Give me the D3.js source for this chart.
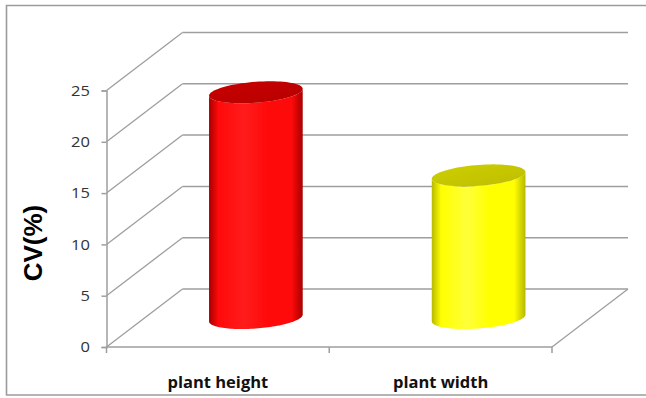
<!DOCTYPE html>
<html>
<head>
<meta charset="utf-8">
<script src="https://cdn.jsdelivr.net/npm/d3@7"></script>
<style>
  html, body { margin: 0; padding: 0; background: #fff; }
  svg { display: block; }
</style>
</head>
<body>
<script>
// Coefficient of variation per trait
const categories = ["plant height", "plant width"];
const values = [22.0, 13.9];
const tickValues = [0, 5, 10, 15, 20, 25];
const barColors = [
  { edge: "#a80000", mid: "#ff0a0a", light: "#ff1c1c", top: "#c80000" },
  { edge: "#b8b800", mid: "#ffff00", light: "#ffff3a", top: "#cfcf00" }
];

const W = 646, H = 398;
const svg = d3.select("body").append("svg").attr("width", W).attr("height", H);

// Oblique 3D frame: front plane plus a depth offset toward the back
const x0 = 106.5, x1 = 552;
const depth = { dx: 76, dy: -58 };
const y = d3.scaleLinear().domain([0, 25]).range([347, 90.5]);
const x = d3.scaleBand().domain(categories).range([x0, x1]).paddingInner(0.6).paddingOuter(0.3);

const grid = "#9e9e9e";

// Chart area border
svg.append("path")
  .attr("d", `M${W + 2},5.5 H6.5 V395 H${W + 2}`)
  .attr("fill", "none").attr("stroke", "#9c9c9c").attr("stroke-width", 1.6);

const g = svg.append("g");

// Back wall gridlines and side wall diagonals
tickValues.forEach(v => {
  const yf = y(v);
  g.append("line")
    .attr("x1", x0 + depth.dx).attr("y1", yf + depth.dy)
    .attr("x2", x1 + depth.dx).attr("y2", yf + depth.dy)
    .attr("stroke", grid).attr("stroke-width", 1.5);
  g.append("line")
    .attr("x1", x0).attr("y1", yf)
    .attr("x2", x0 + depth.dx).attr("y2", yf + depth.dy)
    .attr("stroke", grid).attr("stroke-width", 1.3);
});

// Floor: front edge and right edge
g.append("line").attr("x1", x0).attr("y1", y(0)).attr("x2", x1).attr("y2", y(0))
  .attr("stroke", grid).attr("stroke-width", 1.5);
g.append("line").attr("x1", x1).attr("y1", y(0)).attr("x2", x1 + depth.dx).attr("y2", y(0) + depth.dy)
  .attr("stroke", grid).attr("stroke-width", 1.3);

// Value axis
const yAxis = d3.axisLeft(y).tickValues(tickValues).tickSize(5).tickPadding(10);
const yg = svg.append("g").attr("transform", `translate(${x0},0)`).call(yAxis);
yg.select(".domain").attr("stroke", grid).attr("stroke-width", 1.5);
yg.selectAll(".tick line").attr("stroke", grid).attr("stroke-width", 1.5);
yg.selectAll(".tick text")
  .attr("fill", "#333")
  .style("font-family", "'Open Sans', sans-serif")
  .style("font-size", "15px")
  .attr("transform", "scale(1.1,1)")
  .attr("x", -16 / 1.1 - 0.5);

// Category axis ticks (at band boundaries)
const bounds = [x0, (x0 + x1) / 2, x1];
svg.append("g").selectAll("line").data(bounds).join("line")
  .attr("x1", d => d).attr("x2", d => d)
  .attr("y1", y(0)).attr("y2", y(0) + 6)
  .attr("stroke", grid).attr("stroke-width", 1.5);

// Category labels
svg.append("g").selectAll("text").data(categories).join("text")
  .attr("x", d => x(d) + x.bandwidth() / 2)
  .attr("y", 388)
  .attr("text-anchor", "middle")
  .attr("fill", "#111")
  .style("font-family", "'Open Sans', sans-serif")
  .style("font-weight", "700")
  .style("font-size", "16.5px")
  .text(d => d);

// Axis title
svg.append("text")
  .attr("transform", "translate(42,243) rotate(-90)")
  .attr("text-anchor", "middle")
  .attr("fill", "#000")
  .style("font-family", "'Liberation Sans', Arial, sans-serif")
  .style("font-weight", "700")
  .style("font-size", "26px")
  .text("CV(%)");

// Cylinders
const defs = svg.append("defs");
const depthSemi = 0.19;            // cylinder radius as a fraction of full depth
const rx = x.bandwidth() / 2;      // horizontal radius in px
const kx = depth.dx * depthSemi, ky = depth.dy * depthSemi;

function ellipsePt(cx, cy, t) {
  return [cx + rx * Math.cos(t) + kx * Math.sin(t), cy + ky * Math.sin(t)];
}
const tR = Math.atan2(kx, rx);      // rightmost point (back half)
const tL = Math.PI + tR;            // leftmost point (front half)

categories.forEach((cat, i) => {
  const c = barColors[i];
  const cx = x(cat) + x.bandwidth() / 2 + depth.dx / 2;
  const yb = y(0) + depth.dy / 2;
  const yt = y(values[i]) + depth.dy / 2;

  const gid = "side" + i, tid = "top" + i;
  const lg = defs.append("linearGradient").attr("id", gid)
    .attr("x1", "0").attr("x2", "1").attr("y1", "0").attr("y2", "0");
  [[0, c.edge], [0.1, c.mid], [0.38, c.light], [0.62, c.mid], [0.88, c.mid], [1, c.edge]]
    .forEach(([o, col]) => lg.append("stop").attr("offset", o).attr("stop-color", col));
  const tg = defs.append("linearGradient").attr("id", tid)
    .attr("x1", "0").attr("x2", "1").attr("y1", "0").attr("y2", "1");
  tg.append("stop").attr("offset", 0).attr("stop-color", c.top);
  tg.append("stop").attr("offset", 1).attr("stop-color", d3.color(c.top).darker(0.25));

  const n = 60;
  const front = d3.range(n + 1).map(k => tL + (tR + 2 * Math.PI - tL) * k / n);
  const bottomArc = front.map(t => ellipsePt(cx, yb, t));
  const topArc = front.slice().reverse().map(t => ellipsePt(cx, yt, t));
  const side = [ellipsePt(cx, yt, tL), ...bottomArc, ...topArc];

  svg.append("path")
    .attr("d", d3.line()(side) + "Z")
    .attr("fill", `url(#${gid})`);

  const cap = d3.range(0, 2 * Math.PI + 0.001, Math.PI / 40).map(t => ellipsePt(cx, yt, t));
  svg.append("path")
    .attr("d", d3.line()(cap) + "Z")
    .attr("fill", `url(#${tid})`);
});
</script>
</body>
</html>
